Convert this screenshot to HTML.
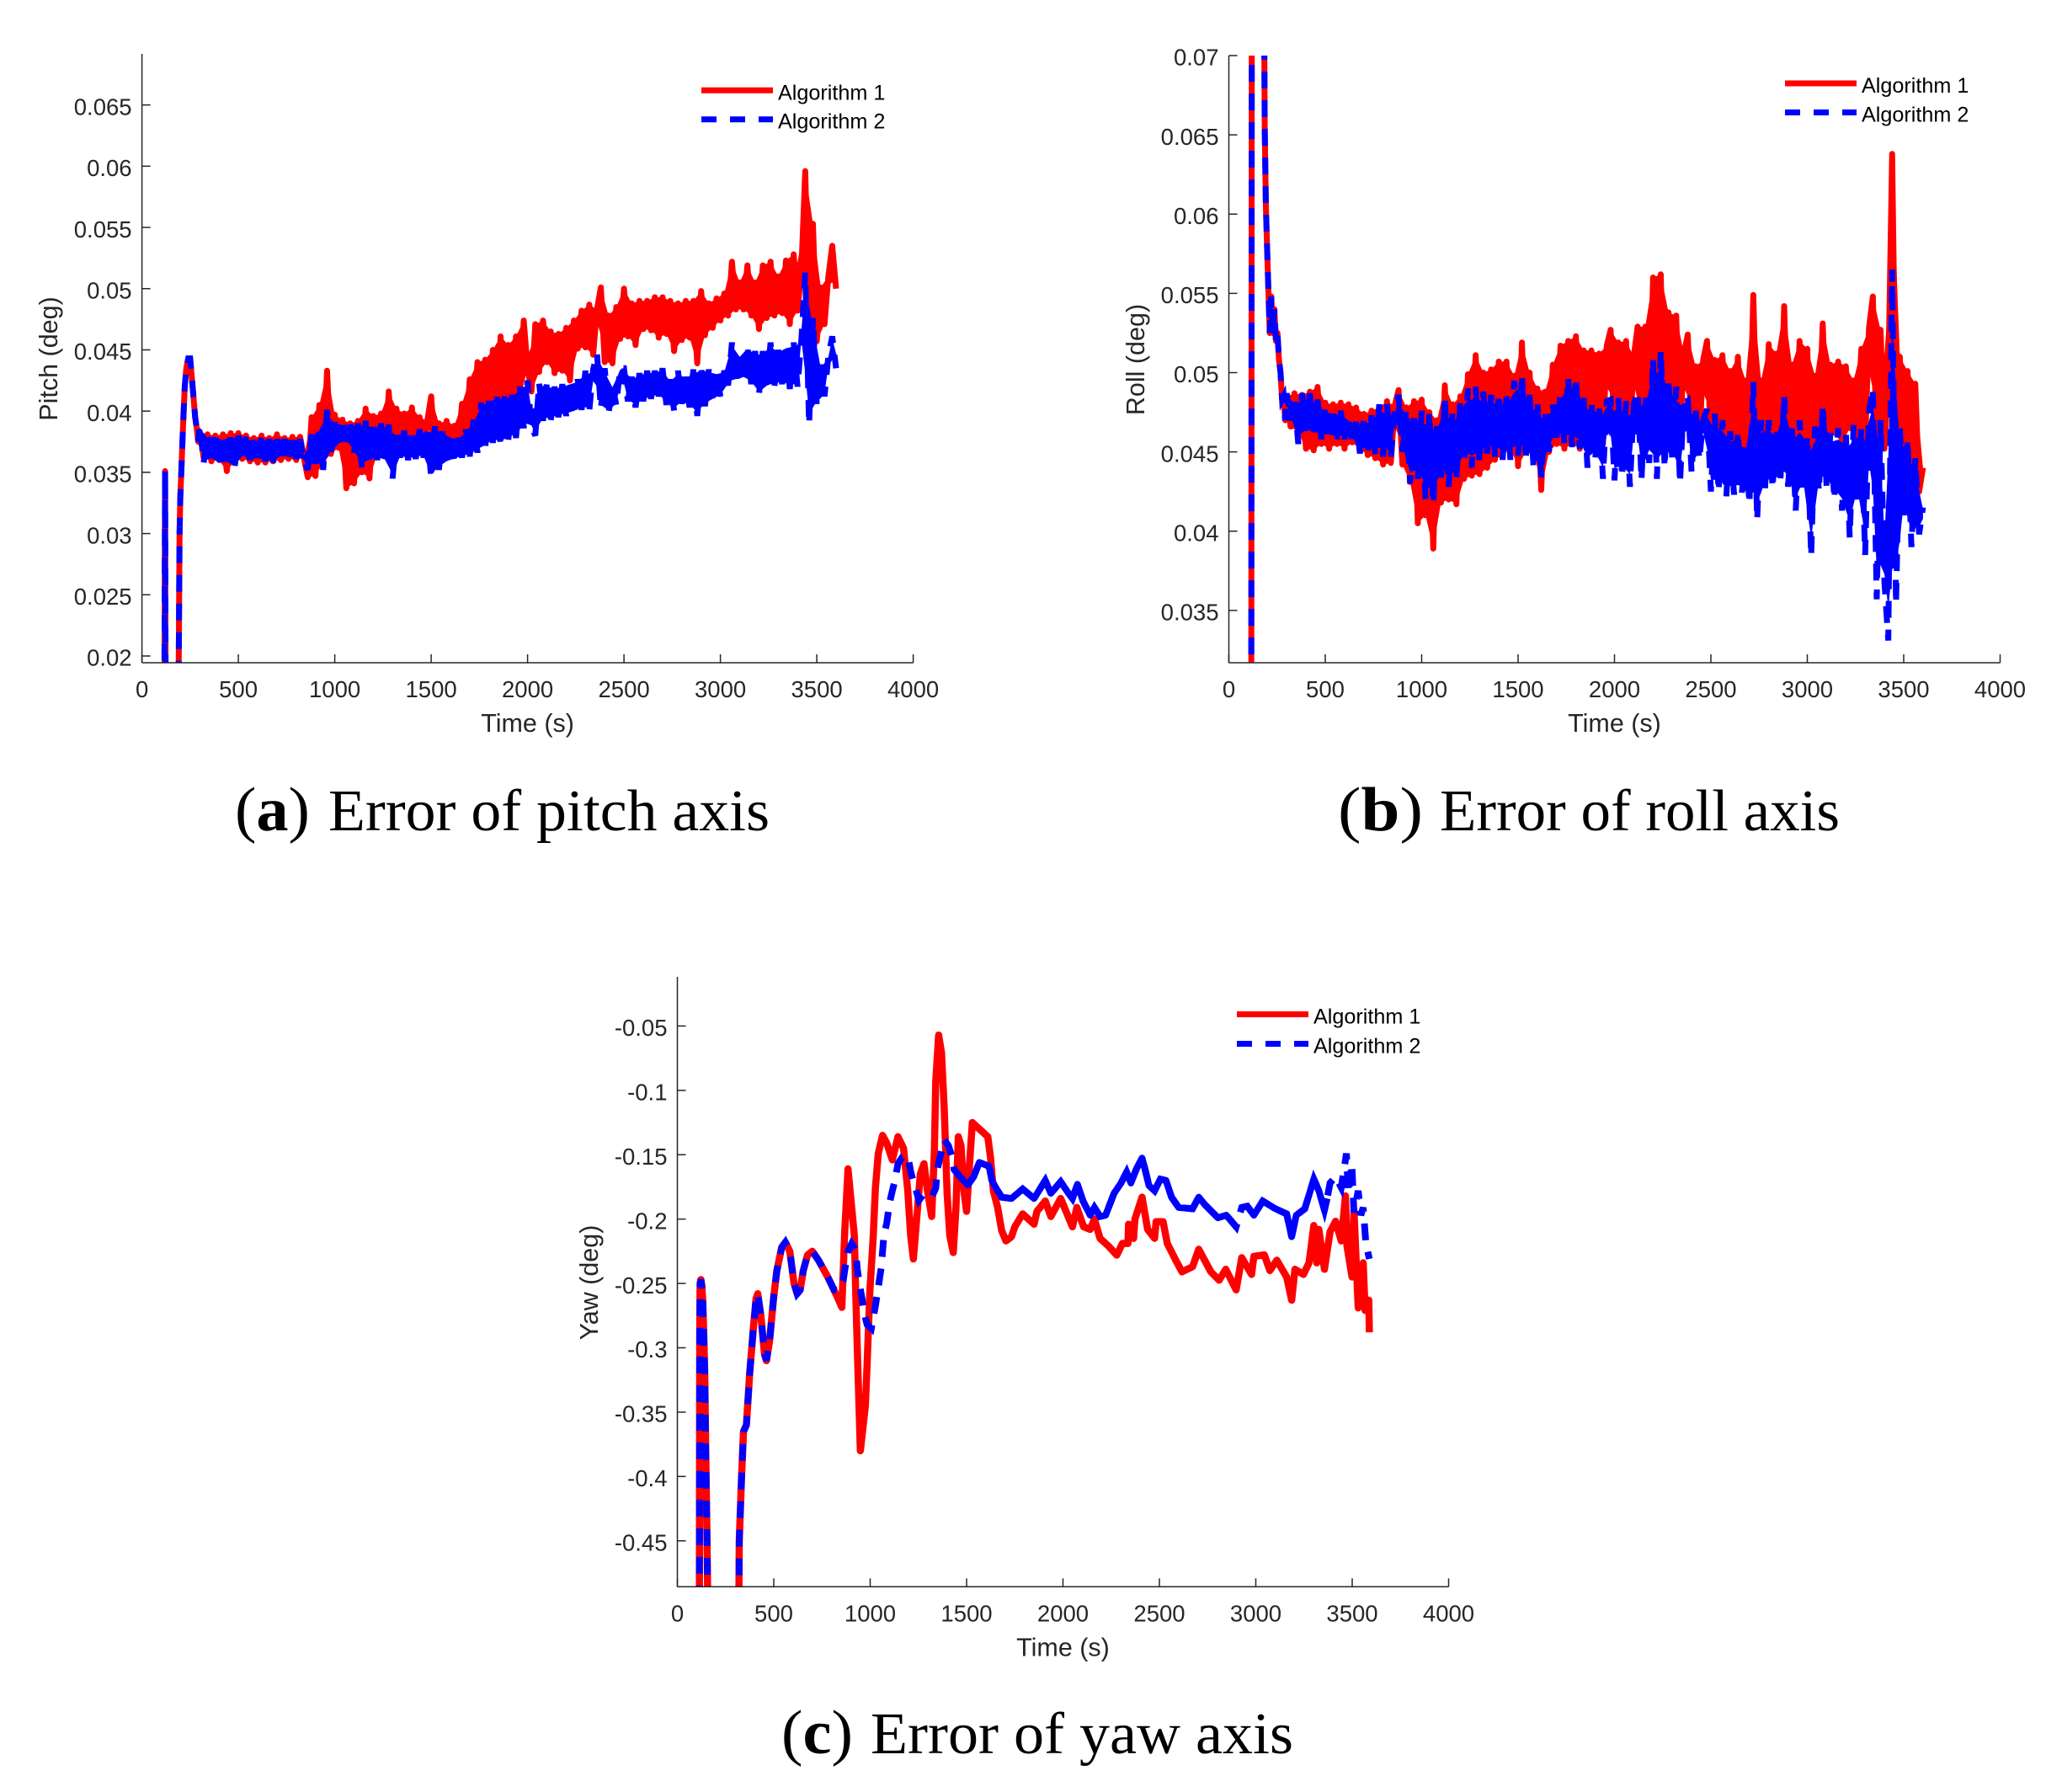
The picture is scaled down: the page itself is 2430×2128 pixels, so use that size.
<!DOCTYPE html>
<html lang="en">
<head>
<meta charset="utf-8">
<title>Error of pitch, roll and yaw axes</title>
<style>
html,body{margin:0;padding:0;background:#fff;}
svg{display:block;}
.tick-label{font-family:"Liberation Sans",Arial,sans-serif;font-size:27.5px;fill:#262626;}
.axis-title{font-family:"Liberation Sans",Arial,sans-serif;font-size:30.5px;fill:#262626;}
.legend-label{font-family:"Liberation Sans",Arial,sans-serif;font-size:25.2px;fill:#000;}
.caption{font-family:"Liberation Serif","Times New Roman",serif;font-size:70px;fill:#000;}
.caption-tag{font-family:"Liberation Serif","Times New Roman",serif;font-size:74px;fill:#000;}
</style>
</head>
<body>
<svg id="fig" xmlns="http://www.w3.org/2000/svg" width="2430" height="2128" viewBox="0 0 2430 2128">
  <rect x="0" y="0" width="2430" height="2128" fill="#fff"/>

  <g id="pitch-chart"></g>
  <g id="roll-chart"></g>
  <g id="yaw-chart"></g>

  <g>
    <line x1="833" y1="107.3" x2="918" y2="107.3" stroke="#f00" stroke-width="7"/>
    <text class="legend-label" x="924" y="118.3">Algorithm 1</text>
    <line x1="833" y1="141.7" x2="918" y2="141.7" stroke="#00f" stroke-width="7" stroke-dasharray="18 16"/>
    <text class="legend-label" x="924" y="152.7">Algorithm 2</text>
  </g>
  <g>
    <line x1="2120" y1="99" x2="2205" y2="99" stroke="#f00" stroke-width="7"/>
    <text class="legend-label" x="2211" y="110">Algorithm 1</text>
    <line x1="2120" y1="133.5" x2="2205" y2="133.5" stroke="#00f" stroke-width="7" stroke-dasharray="18 16"/>
    <text class="legend-label" x="2211" y="144.5">Algorithm 2</text>
  </g>
  <g>
    <line x1="1469" y1="1204.5" x2="1554" y2="1204.5" stroke="#f00" stroke-width="7"/>
    <text class="legend-label" x="1560" y="1215.5">Algorithm 1</text>
    <line x1="1469" y1="1239.5" x2="1554" y2="1239.5" stroke="#00f" stroke-width="7" stroke-dasharray="18 16"/>
    <text class="legend-label" x="1560" y="1250.5">Algorithm 2</text>
  </g>

  <g>
    <text class="caption-tag" x="279" y="986" textLength="89" lengthAdjust="spacingAndGlyphs">(<tspan font-weight="bold">a</tspan>)</text>
    <text class="caption" x="390" y="986" textLength="524" lengthAdjust="spacingAndGlyphs">Error of pitch axis</text>
  </g>
  <g>
    <text class="caption-tag" x="1589" y="986" textLength="101" lengthAdjust="spacingAndGlyphs">(<tspan font-weight="bold">b</tspan>)</text>
    <text class="caption" x="1710" y="986" textLength="475" lengthAdjust="spacingAndGlyphs">Error of roll axis</text>
  </g>
  <g>
    <text class="caption-tag" x="928" y="2082" textLength="85" lengthAdjust="spacingAndGlyphs">(<tspan font-weight="bold">c</tspan>)</text>
    <text class="caption" x="1034" y="2082" textLength="502" lengthAdjust="spacingAndGlyphs">Error of yaw axis</text>
  </g>
</svg>

<script>
// ---- shared sample times (s) for the noisy pitch / roll traces ----
const sampleTimes = [300,320,340,360,380,400,420,440,460,480,
500,520,540,560,580,600,620,640,660,680,
700,720,740,760,780,800,820,840,860,880,
900,920,940,960,980,1000,1020,1040,1060,1080,
1100,1120,1140,1160,1180,1200,1220,1240,1260,1280,
1300,1320,1340,1360,1380,1400,1420,1440,1460,1480,
1500,1520,1540,1560,1580,1600,1620,1640,1660,1680,
1700,1720,1740,1760,1780,1800,1820,1840,1860,1880,
1900,1920,1940,1960,1980,2000,2020,2040,2060,2080,
2100,2120,2140,2160,2180,2200,2220,2240,2260,2280,
2300,2320,2340,2360,2380,2400,2420,2440,2460,2480,
2500,2520,2540,2560,2580,2600,2620,2640,2660,2680,
2700,2720,2740,2760,2780,2800,2820,2840,2860,2880,
2900,2920,2940,2960,2980,3000,3020,3040,3060,3080,
3100,3120,3140,3160,3180,3200,3220,3240,3260,3280,
3300,3320,3340,3360,3380,3400,3420,3440,3460,3480,
3500,3520,3540,3560,3580,3600];

// ---- pitch chart ----
const pitchLeadTimes = [116,120,123,186,191,195,199,204,210,215,222,230,240,250,260,268,276,285,292];
const pitchLeadValues = [.015,.0351,.015,.015,.02,.03,.033,.035,.0375,.0395,.042,.0435,.0443,.0443,.0425,.041,.0395,.0385,.0375];
const pitchAlg1Values = [.0383,.0362,.0381,.0359,.0380,.0360,.0381,.0351,.0382,.0359,
.0382,.0361,.0380,.0359,.0378,.0358,.0380,.0358,.0378,.0359,
.0381,.0360,.0378,.0361,.0379,.0360,.0379,.0362,.0346,.0395,
.0347,.0405,.0358,.0433,.0365,.0397,.0370,.0393,.0337,.0390,
.0341,.0392,.0350,.0402,.0345,.0396,.0365,.0398,.0363,.0416,
.0365,.0402,.0365,.0398,.0368,.0403,.0365,.0395,.0368,.0392,
.0412,.0365,.0390,.0368,.0392,.0370,.0388,.0372,.0406,.0375,
.0426,.0380,.0440,.0385,.0442,.0392,.0450,.0395,.0461,.0398,
.0454,.0405,.0461,.0410,.0474,.0435,.0416,.0471,.0432,.0474,
.0440,.0465,.0431,.0463,.0433,.0468,.0425,.0474,.0451,.0482,
.0452,.0487,.0446,.0483,.0501,.0440,.0478,.0439,.0485,.0459,
.0500,.0461,.0488,.0454,.0490,.0467,.0490,.0466,.0493,.0460,
.0493,.0463,.0490,.0449,.0488,.0458,.0490,.0460,.0490,.0439,
.0498,.0462,.0488,.0468,.0492,.0474,.0496,.0478,.0522,.0483,
.0505,.0483,.0519,.0478,.0505,.0467,.0519,.0476,.0522,.0478,
.0510,.0480,.0523,.0471,.0528,.0482,.0515,.0596,.0470,.0553,
.0457,.0501,.0471,.0510,.0535,.0500];
const pitchAlg2Values = [.0388,.0358,.0380,.0360,.0381,.0356,.0378,.0357,.0381,.0353,
.0380,.0362,.0379,.0360,.0376,.0360,.0378,.0359,.0377,.0358,
.0379,.0362,.0377,.0362,.0378,.0361,.0377,.0360,.0352,.0381,
.0357,.0387,.0352,.0401,.0365,.0391,.0372,.0390,.0375,.0390,
.0366,.0390,.0354,.0392,.0358,.0388,.0360,.0390,.0358,.0389,
.0345,.0382,.0362,.0384,.0360,.0380,.0361,.0385,.0362,.0383,
.0345,.0389,.0352,.0384,.0357,.0380,.0360,.0378,.0362,.0385,
.0363,.0393,.0366,.0407,.0369,.0410,.0374,.0414,.0372,.0412,
.0376,.0415,.0378,.0420,.0386,.0425,.0387,.0380,.0423,.0392,
.0423,.0392,.0420,.0395,.0422,.0396,.0424,.0398,.0426,.0401,
.0433,.0400,.0434,.0447,.0402,.0435,.0398,.0421,.0405,.0435,
.0435,.0408,.0428,.0403,.0431,.0408,.0433,.0410,.0433,.0412,
.0435,.0405,.0426,.0400,.0433,.0406,.0428,.0403,.0434,.0396,
.0436,.0404,.0434,.0408,.0432,.0412,.0433,.0421,.0456,.0424,
.0446,.0426,.0453,.0422,.0449,.0413,.0449,.0418,.0456,.0420,
.0450,.0422,.0454,.0418,.0456,.0420,.0458,.0513,.0389,.0476,
.0404,.0438,.0412,.0445,.0461,.0435];
const pitchYTicks = [.02,.025,.03,.035,.04,.045,.05,.055,.06,.065];
const pitchYLabels = ["0.02","0.025","0.03","0.035","0.04","0.045","0.05","0.055","0.06","0.065"];

// ---- roll chart ----
const rollLeadTimes = [116,120,176,186,192,198,204,212,220,228,236,244,252,260,268,276,284,292];
const rollLeadValues = [.025,.09,.09,.0655,.0605,.058,.0556,.0525,.0548,.0525,.0540,.0520,.0525,.0508,.0500,.0483,.0485,.0470];
const rollAlg1Values = [.0485,.0466,.0487,.0462,.0486,.0452,.0488,.0451,.0491,.0455,
.0481,.0452,.0480,.0455,.0481,.0452,.0480,.0456,.0478,.0452,
.0474,.0448,.0476,.0446,.0478,.0442,.0482,.0443,.0479,.0489,
.0442,.0478,.0431,.0482,.0405,.0483,.0410,.0475,.0389,.0470,
.0418,.0492,.0420,.0480,.0417,.0485,.0433,.0499,.0435,.0511,
.0436,.0500,.0440,.0502,.0445,.0507,.0448,.0507,.0452,.0498,
.0441,.0519,.0450,.0500,.0453,.0490,.0426,.0488,.0450,.0505,
.0455,.0517,.0452,.0520,.0455,.0523,.0452,.0514,.0457,.0514,
.0458,.0512,.0455,.0517,.0527,.0456,.0519,.0458,.0520,.0457,
.0510,.0529,.0455,.0529,.0458,.0560,.0458,.0562,.0460,.0538,
.0460,.0536,.0458,.0512,.0524,.0458,.0504,.0455,.0508,.0520,
.0455,.0508,.0452,.0511,.0450,.0501,.0455,.0510,.0450,.0495,
.0452,.0549,.0452,.0495,.0452,.0518,.0455,.0512,.0458,.0542,
.0458,.0505,.0460,.0520,.0455,.0515,.0411,.0498,.0465,.0531,
.0460,.0505,.0462,.0507,.0455,.0504,.0465,.0495,.0460,.0515,
.0455,.0528,.0548,.0450,.0527,.0452,.0495,.0638,.0460,.0510,
.0445,.0501,.0435,.0493,.0425,.0440];
const rollAlg2Values = [.0487,.0470,.0484,.0455,.0487,.0460,.0487,.0459,.0483,.0458,
.0478,.0458,.0477,.0457,.0476,.0458,.0472,.0457,.0469,.0449,
.0471,.0449,.0473,.0448,.0480,.0447,.0480,.0446,.0476,.0486,
.0450,.0477,.0430,.0475,.0433,.0476,.0420,.0475,.0417,.0470,
.0432,.0485,.0428,.0474,.0432,.0482,.0443,.0490,.0440,.0491,
.0443,.0488,.0449,.0486,.0447,.0487,.0445,.0485,.0445,.0495,
.0447,.0499,.0445,.0486,.0440,.0481,.0434,.0476,.0450,.0480,
.0459,.0488,.0455,.0497,.0453,.0497,.0452,.0484,.0440,.0482,
.0445,.0480,.0433,.0482,.0483,.0432,.0484,.0434,.0482,.0428,
.0480,.0488,.0432,.0486,.0443,.0509,.0433,.0514,.0440,.0496,
.0443,.0491,.0430,.0485,.0484,.0437,.0478,.0445,.0470,.0477,
.0425,.0474,.0425,.0470,.0422,.0463,.0423,.0463,.0423,.0455,
.0417,.0494,.0407,.0470,.0425,.0470,.0427,.0465,.0430,.0486,
.0428,.0465,.0413,.0470,.0425,.0460,.0384,.0466,.0425,.0480,
.0428,.0462,.0420,.0465,.0413,.0462,.0396,.0467,.0420,.0465,
.0385,.0475,.0490,.0357,.0470,.0368,.0331,.0565,.0354,.0465,
.0410,.0458,.0390,.0446,.0398,.0415];
const rollYTicks = [.035,.04,.045,.05,.055,.06,.065,.07];
const rollYLabels = ["0.035","0.04","0.045","0.05","0.055","0.06","0.065","0.07"];

// ---- yaw chart ----
const yawSharedTimes = [114,115,116,118,122,127,132,137,142,147,152,158,318,321,333,343,358,375,394,408,417,433,452,462,478,500,516,541,560,583,605,621,637,653,675,700,732,780,812];
const yawSharedValues = [-.52,-.40,-.29,-.25,-.247,-.252,-.265,-.29,-.32,-.38,-.43,-.5,-.52,-.45,-.40,-.365,-.36,-.32,-.285,-.262,-.258,-.275,-.305,-.31,-.295,-.26,-.24,-.222,-.218,-.225,-.25,-.258,-.255,-.24,-.228,-.225,-.232,-.245,-.255];
const yawAlg1Times = [834,853,868,885,904,918,925,933,949,975,984,998,1016,1027,1042,1064,1086,1115,1144,1173,1195,1210,1224,1246,1260,1279,1297,1319,1333,1340,1355,1370,1384,1399,1413,1431,1445,1457,1471,1486,1500,1515,1530,1551,1581,1610,1624,1639,1661,1682,1704,1733,1750,1791,1850,1865,1908,1937,1988,2049,2072,2107,2141,2163,2192,2236,2279,2308,2337,2340,2366,2373,2410,2439,2475,2483,2519,2541,2585,2617,2672,2704,2767,2810,2844,2898,2927,2978,2990,3044,3073,3109,3160,3186,3203,3247,3276,3301,3316,3327,3356,3385,3414,3443,3465,3473,3499,3509,3531,3557,3567,3586,3589];
const yawAlg1Values = [-.262,-.2686,-.21,-.161,-.191,-.213,-.257,-.30,-.38,-.345,-.313,-.257,-.213,-.176,-.149,-.135,-.141,-.154,-.136,-.145,-.178,-.213,-.231,-.191,-.165,-.157,-.178,-.198,-.147,-.093,-.057,-.071,-.114,-.18,-.213,-.226,-.191,-.136,-.143,-.178,-.194,-.158,-.125,-.128,-.132,-.136,-.152,-.178,-.191,-.209,-.217,-.2137,-.206,-.196,-.204,-.194,-.186,-.198,-.184,-.206,-.191,-.206,-.208,-.2,-.215,-.221,-.228,-.219,-.219,-.204,-.215,-.2,-.183,-.208,-.215,-.202,-.202,-.219,-.232,-.241,-.237,-.2235,-.241,-.2475,-.239,-.255,-.23,-.243,-.229,-.2278,-.24,-.232,-.245,-.263,-.239,-.243,-.234,-.205,-.234,-.208,-.239,-.21,-.2017,-.217,-.182,-.221,-.245,-.193,-.269,-.234,-.271,-.263,-.288];
const yawAlg2Times = [831,860,882,904,925,933,947,958,969,984,1006,1027,1042,1057,1071,1086,1101,1115,1130,1144,1166,1195,1210,1224,1239,1253,1275,1319,1340,1348,1362,1384,1406,1423,1435,1471,1507,1537,1566,1617,1631,1653,1682,1733,1791,1850,1908,1937,1988,2024,2049,2075,2104,2141,2163,2192,2221,2265,2301,2330,2352,2381,2410,2425,2446,2475,2505,2534,2563,2600,2672,2704,2737,2803,2847,2898,2927,2956,2990,3036,3102,3160,3186,3210,3254,3301,3327,3356,3370,3385,3414,3443,3470,3480,3498,3509,3531,3545,3557,3571,3589];
const yawAlg2Values = [-.2555,-.248,-.226,-.219,-.224,-.239,-.253,-.262,-.273,-.282,-.285,-.2675,-.253,-.238,-.213,-.203,-.187,-.178,-.169,-.157,-.152,-.151,-.163,-.171,-.178,-.1855,-.181,-.183,-.176,-.1615,-.152,-.1385,-.143,-.151,-.1615,-.168,-.1735,-.167,-.156,-.159,-.17,-.176,-.183,-.184,-.1766,-.184,-.17,-.18,-.171,-.179,-.184,-.173,-.186,-.197,-.191,-.198,-.197,-.18,-.172,-.1635,-.172,-.161,-.1526,-.161,-.174,-.178,-.169,-.17,-.183,-.191,-.192,-.183,-.189,-.199,-.197,-.206,-.191,-.19,-.197,-.186,-.192,-.196,-.2137,-.197,-.192,-.169,-.178,-.193,-.184,-.172,-.167,-.1755,-.149,-.18,-.157,-.195,-.178,-.197,-.191,-.219,-.231];
const yawYTicks = [-.45,-.4,-.35,-.3,-.25,-.2,-.15,-.1,-.05];
const yawYLabels = ["-0.45","-0.4","-0.35","-0.3","-0.25","-0.2","-0.15","-0.1","-0.05"];

// ---- shared x axis ----
const xTicks = [0,500,1000,1500,2000,2500,3000,3500,4000];
const xLabels = ["0","500","1000","1500","2000","2500","3000","3500","4000"];

const NS = "http://www.w3.org/2000/svg";

function make(parent, tag, attrs, text) {
  const el = document.createElementNS(NS, tag);
  for (const k in attrs) el.setAttribute(k, attrs[k]);
  if (text !== undefined) el.textContent = text;
  parent.appendChild(el);
  return el;
}

function buildChart(cfg) {
  const g = document.getElementById(cfg.id);
  const xScale = function (t) { return cfg.left + (t - 0) * (cfg.right - cfg.left) / 4000; };
  const yScale = function (v) { return cfg.bottom - (v - cfg.yMin) * (cfg.bottom - cfg.top) / (cfg.yMax - cfg.yMin); };
  const clipRef = "url(#" + cfg.id + "-clip)";

  const defs = make(g, "defs", {});
  const clip = make(defs, "clipPath", { id: cfg.id + "-clip" });
  make(clip, "rect", { x: cfg.left, y: cfg.top, width: cfg.right - cfg.left, height: cfg.bottom - cfg.top });

  function pathFrom(times, values, fromT, toT) {
    let d = "";
    for (let i = 0; i < times.length; i++) {
      if (times[i] < fromT || times[i] > toT) continue;
      d += (d ? "L" : "M") + xScale(times[i]).toFixed(2) + " " + yScale(values[i]).toFixed(2);
    }
    return d;
  }

  cfg.series.forEach(function (s) {
    // Solid core of a noisy trace: the region between its peaks and its troughs.
    if (s.bandStart !== undefined) {
      const upper = [], lower = [];
      for (let i = s.bandStart; i < s.values.length; i++) {
        const prev = s.values[Math.max(i - 1, s.bandStart)];
        const next = s.values[Math.min(i + 1, s.values.length - 1)];
        const mid = (prev + next) / 2;
        const hi = Math.max(s.values[i], mid);
        const lo = Math.min(s.values[i], mid);
        const inset = (hi - lo) * s.bandInset;
        const px = xScale(s.times[i]).toFixed(2);
        upper.push(px + "," + yScale(hi - inset).toFixed(2));
        lower.unshift(px + "," + yScale(lo + inset).toFixed(2));
      }
      const band = make(g, "polygon", { points: upper.concat(lower).join(" "), fill: s.color, "clip-path": clipRef });
      
      
    }

    const path = make(g, "path", {
      d: pathFrom(s.times, s.values, -Infinity, Infinity), fill: "none", stroke: s.color, "stroke-width": s.width,
      "stroke-linejoin": s.dash ? "miter" : "round",
      "stroke-dasharray": s.dash || "none",
      "clip-path": clipRef
    });
    
    

    // Stretches where fine jitter closes the dashes into an unbroken trace.
    (s.closedRanges || []).forEach(function (r) {
      const closed = make(g, "path", {
        d: pathFrom(s.times, s.values, r[0], r[1]), fill: "none", stroke: s.color, "stroke-width": s.width,
        "stroke-linejoin": "round", "clip-path": clipRef
      });
      
      
    });
  });

  const yAxis = make(g, "line", { x1: cfg.left, y1: cfg.top, x2: cfg.left, y2: cfg.bottom, stroke: "#262626", "stroke-width": 1.5 });
  
  
  const xAxis = make(g, "line", { x1: cfg.left, y1: cfg.bottom, x2: cfg.right, y2: cfg.bottom, stroke: "#262626", "stroke-width": 1.5 });
  
  

  xTicks.forEach(function (t, i) {
    const px = xScale(t);
    const tick = make(g, "line", { x1: px, y1: cfg.bottom, x2: px, y2: cfg.bottom - 10, stroke: "#262626", "stroke-width": 1.5 });
    
    
    const label = make(g, "text", { class: "tick-label", x: px, y: cfg.bottom + 41, "text-anchor": "middle" }, xLabels[i]);
    
    
  });

  cfg.yTicks.forEach(function (v, i) {
    const py = yScale(v);
    const tick = make(g, "line", { x1: cfg.left, y1: py, x2: cfg.left + 10, y2: py, stroke: "#262626", "stroke-width": 1.5 });
    
    
    const label = make(g, "text", { class: "tick-label", x: cfg.left - 12, y: py + 11.7, "text-anchor": "end" }, cfg.yLabels[i]);
    
    
  });

  const xTitle = make(g, "text", { class: "axis-title", x: (cfg.left + cfg.right) / 2, y: cfg.bottom + 82, "text-anchor": "middle" }, "Time (s)");
  
  
  const yTitle = make(g, "text", {
    class: "axis-title", x: 0, y: 0, "text-anchor": "middle",
    transform: "translate(" + cfg.yTitleX + " " + cfg.yTitleY + ") rotate(-90)"
  }, cfg.yTitle);
  
  
}

buildChart({
  id: "pitch-chart", left: 168.6, right: 1084.6, top: 64, bottom: 787,
  yMin: .01945, yMax: .06917,
  yTicks: pitchYTicks, yLabels: pitchYLabels,
  yTitle: "Pitch (deg)", yTitleX: 68, yTitleY: 426,
  series: [
    { name: "pitch-algorithm-1-line", color: "#f00", dash: null, width: 7, bandStart: pitchLeadTimes.length, bandInset: 0,
      times: pitchLeadTimes.concat(sampleTimes), values: pitchLeadValues.concat(pitchAlg1Values) },
    { name: "pitch-algorithm-2-line", color: "#00f", dash: "20 14", width: 7, bandStart: pitchLeadTimes.length, bandInset: 0.08,
      times: pitchLeadTimes.concat(sampleTimes), values: pitchLeadValues.concat(pitchAlg2Values) }
  ]
});

buildChart({
  id: "roll-chart", left: 1459.5, right: 2375.5, top: 66, bottom: 787,
  yMin: .0317, yMax: .07,
  yTicks: rollYTicks, yLabels: rollYLabels,
  yTitle: "Roll (deg)", yTitleX: 1359, yTitleY: 427,
  series: [
    { name: "roll-algorithm-1-line", color: "#f00", dash: null, width: 7, bandStart: rollLeadTimes.length, bandInset: 0,
      times: rollLeadTimes.concat(sampleTimes), values: rollLeadValues.concat(rollAlg1Values) },
    { name: "roll-algorithm-2-line", color: "#00f", dash: "20 14", width: 7, bandStart: rollLeadTimes.length, bandInset: 0.15,
      times: rollLeadTimes.concat(sampleTimes), values: rollLeadValues.concat(rollAlg2Values) }
  ]
});

buildChart({
  id: "yaw-chart", left: 804.5, right: 1720.5, top: 1160, bottom: 1884.3,
  yMin: -.4857, yMax: -.0118,
  yTicks: yawYTicks, yLabels: yawYLabels,
  yTitle: "Yaw (deg)", yTitleX: 710, yTitleY: 1523,
  series: [
    { name: "yaw-algorithm-1-line", color: "#f00", dash: null, width: 8.5,
      times: yawSharedTimes.concat(yawAlg1Times), values: yawSharedValues.concat(yawAlg1Values) },
    { name: "yaw-algorithm-2-line", color: "#00f", dash: "20 14", width: 8, closedRanges: [[1435, 2898], [2927, 3370]],
      times: yawSharedTimes.concat(yawAlg2Times), values: yawSharedValues.concat(yawAlg2Values) }
  ]
});
</script>
</body>
</html>
